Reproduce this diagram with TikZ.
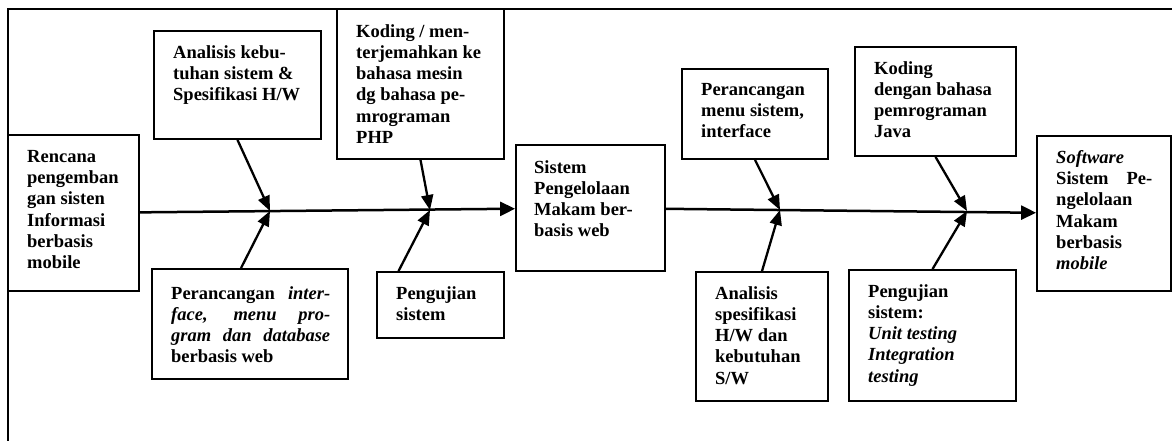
\documentclass[tikz,border=0pt]{standalone}
\usepackage{fontspec}
\setmainfont{Liberation Serif}
\usetikzlibrary{arrows.meta,fit}
\tolerance=10000
\hyphenpenalty=10000

\tikzset{
  box/.style={draw, line width=1.8pt, inner sep=0pt},
  txt/.style={anchor=north west, inner sep=0pt, align=left,
    font=\fontsize{18.5}{21.3}\selectfont\bfseries},
  txtj/.style={txt, align=justify, text width=#1},
  arr/.style={line width=2.3pt, -{Triangle[length=15pt,width=12pt]}},
  spine/.style={line width=2.5pt, -{Triangle[length=15pt,width=14pt]}},
}

\begin{document}
\begin{tikzpicture}[x=1pt, y=-1pt]
    \useasboundingbox (0,0) rectangle (1172,441);
    \draw[line width=1.4pt] (8,441) -- (8,9) -- (1172,9);

    % boxes
    \node[box, fit={(8,135) (139,291)}] (rencana) {};
    \node[box, fit={(154,31) (321,139)}] (analisis) {};
    \node[box, fit={(337,9) (504,159)}] (kodingphp) {};
    \node[box, fit={(152,269) (348,379)}] (rancangweb) {};
    \node[box, fit={(377,272) (504,338)}] (ujiweb) {};
    \node[box, fit={(516,145) (665,271)}] (sistemweb) {};
    \node[box, fit={(682,69) (828,159)}] (rancangmenu) {};
    \node[box, fit={(696,272) (828,401)}] (analisisspek) {};
    \node[box, fit={(855,47) (1016,156)}] (kodingjava) {};
    \node[box, fit={(849,270) (1016,401)}] (ujimobile) {};
    \node[box, fit={(1037,136) (1171,291)}] (software) {};

    % texts
    \node[txt] (rencana-t) at (27,150) {Rencana\\pengemban\\gan sisten\\Informasi\\berbasis\\mobile};
    \node[txt] (analisis-t) at (173,45) {Analisis kebu-\\tuhan sistem \&\\Spesifikasi H/W};
    \node[txt] (kodingphp-t) at (356,24) {Koding / men-\\terjemahkan ke\\bahasa mesin\\dg bahasa pe-\\mrograman\\PHP};
    \node[txtj=159pt] (rancangweb-t) at (171,286) {Perancangan \textit{inter-}\linebreak
        \textit{face, menu pro-}\linebreak \textit{gram dan database}\linebreak berbasis web};
    \node[txt] (ujiweb-t) at (396,286) {Pengujian\\sistem};
    \node[txt] (sistemweb-t) at (534,160) {Sistem\\Pengelolaan\\Makam ber-\\basis web};
    \node[txt] (rancangmenu-t) at (701,83) {Perancangan\\menu sistem,\\interface};
    \node[txt] (analisisspek-t) at (715,286) {Analisis\\spesifikasi\\H/W dan\\kebutuhan\\S/W};
    \node[txt] (kodingjava-t) at (874,61) {Koding\\dengan bahasa\\pemrograman\\Java};
    \node[txt] (ujimobile-t) at (868,284) {Pengujian\\sistem:\\\textit{Unit testing}\\\textit{Integration}\\\textit{testing}};
    \node[txtj=96pt] (software-t) at (1056,150) {\textit{Software}\newline Sistem Pe-\linebreak
        ngelolaan\newline Makam\newline berbasis\newline \textit{mobile}};

    % spine
    \coordinate (j1) at (270,211);
    \coordinate (j2) at (430,210);
    \coordinate (j3) at (780,210);
    \coordinate (j4) at (967,211);
    \draw[spine] (rencana) -- (sistemweb);
    \draw[spine] (sistemweb) -- (software);

    % ribs
    \draw[arr] (analisis.south) -- (j1);
    \draw[arr] ([xshift=-9pt]rancangweb.north) -- (j1);
    \draw[arr] (kodingphp.south) -- (j2);
    \draw[arr] ([xshift=-42pt]ujiweb.north) -- (j2);
    \draw[arr] (rancangmenu.south) -- (j3);
    \draw[arr] (analisisspek.north) -- (j3);
    \draw[arr] (kodingjava.south) -- (j4);
    \draw[arr] (ujimobile.north) -- (j4);
\end{tikzpicture}
\end{document}
